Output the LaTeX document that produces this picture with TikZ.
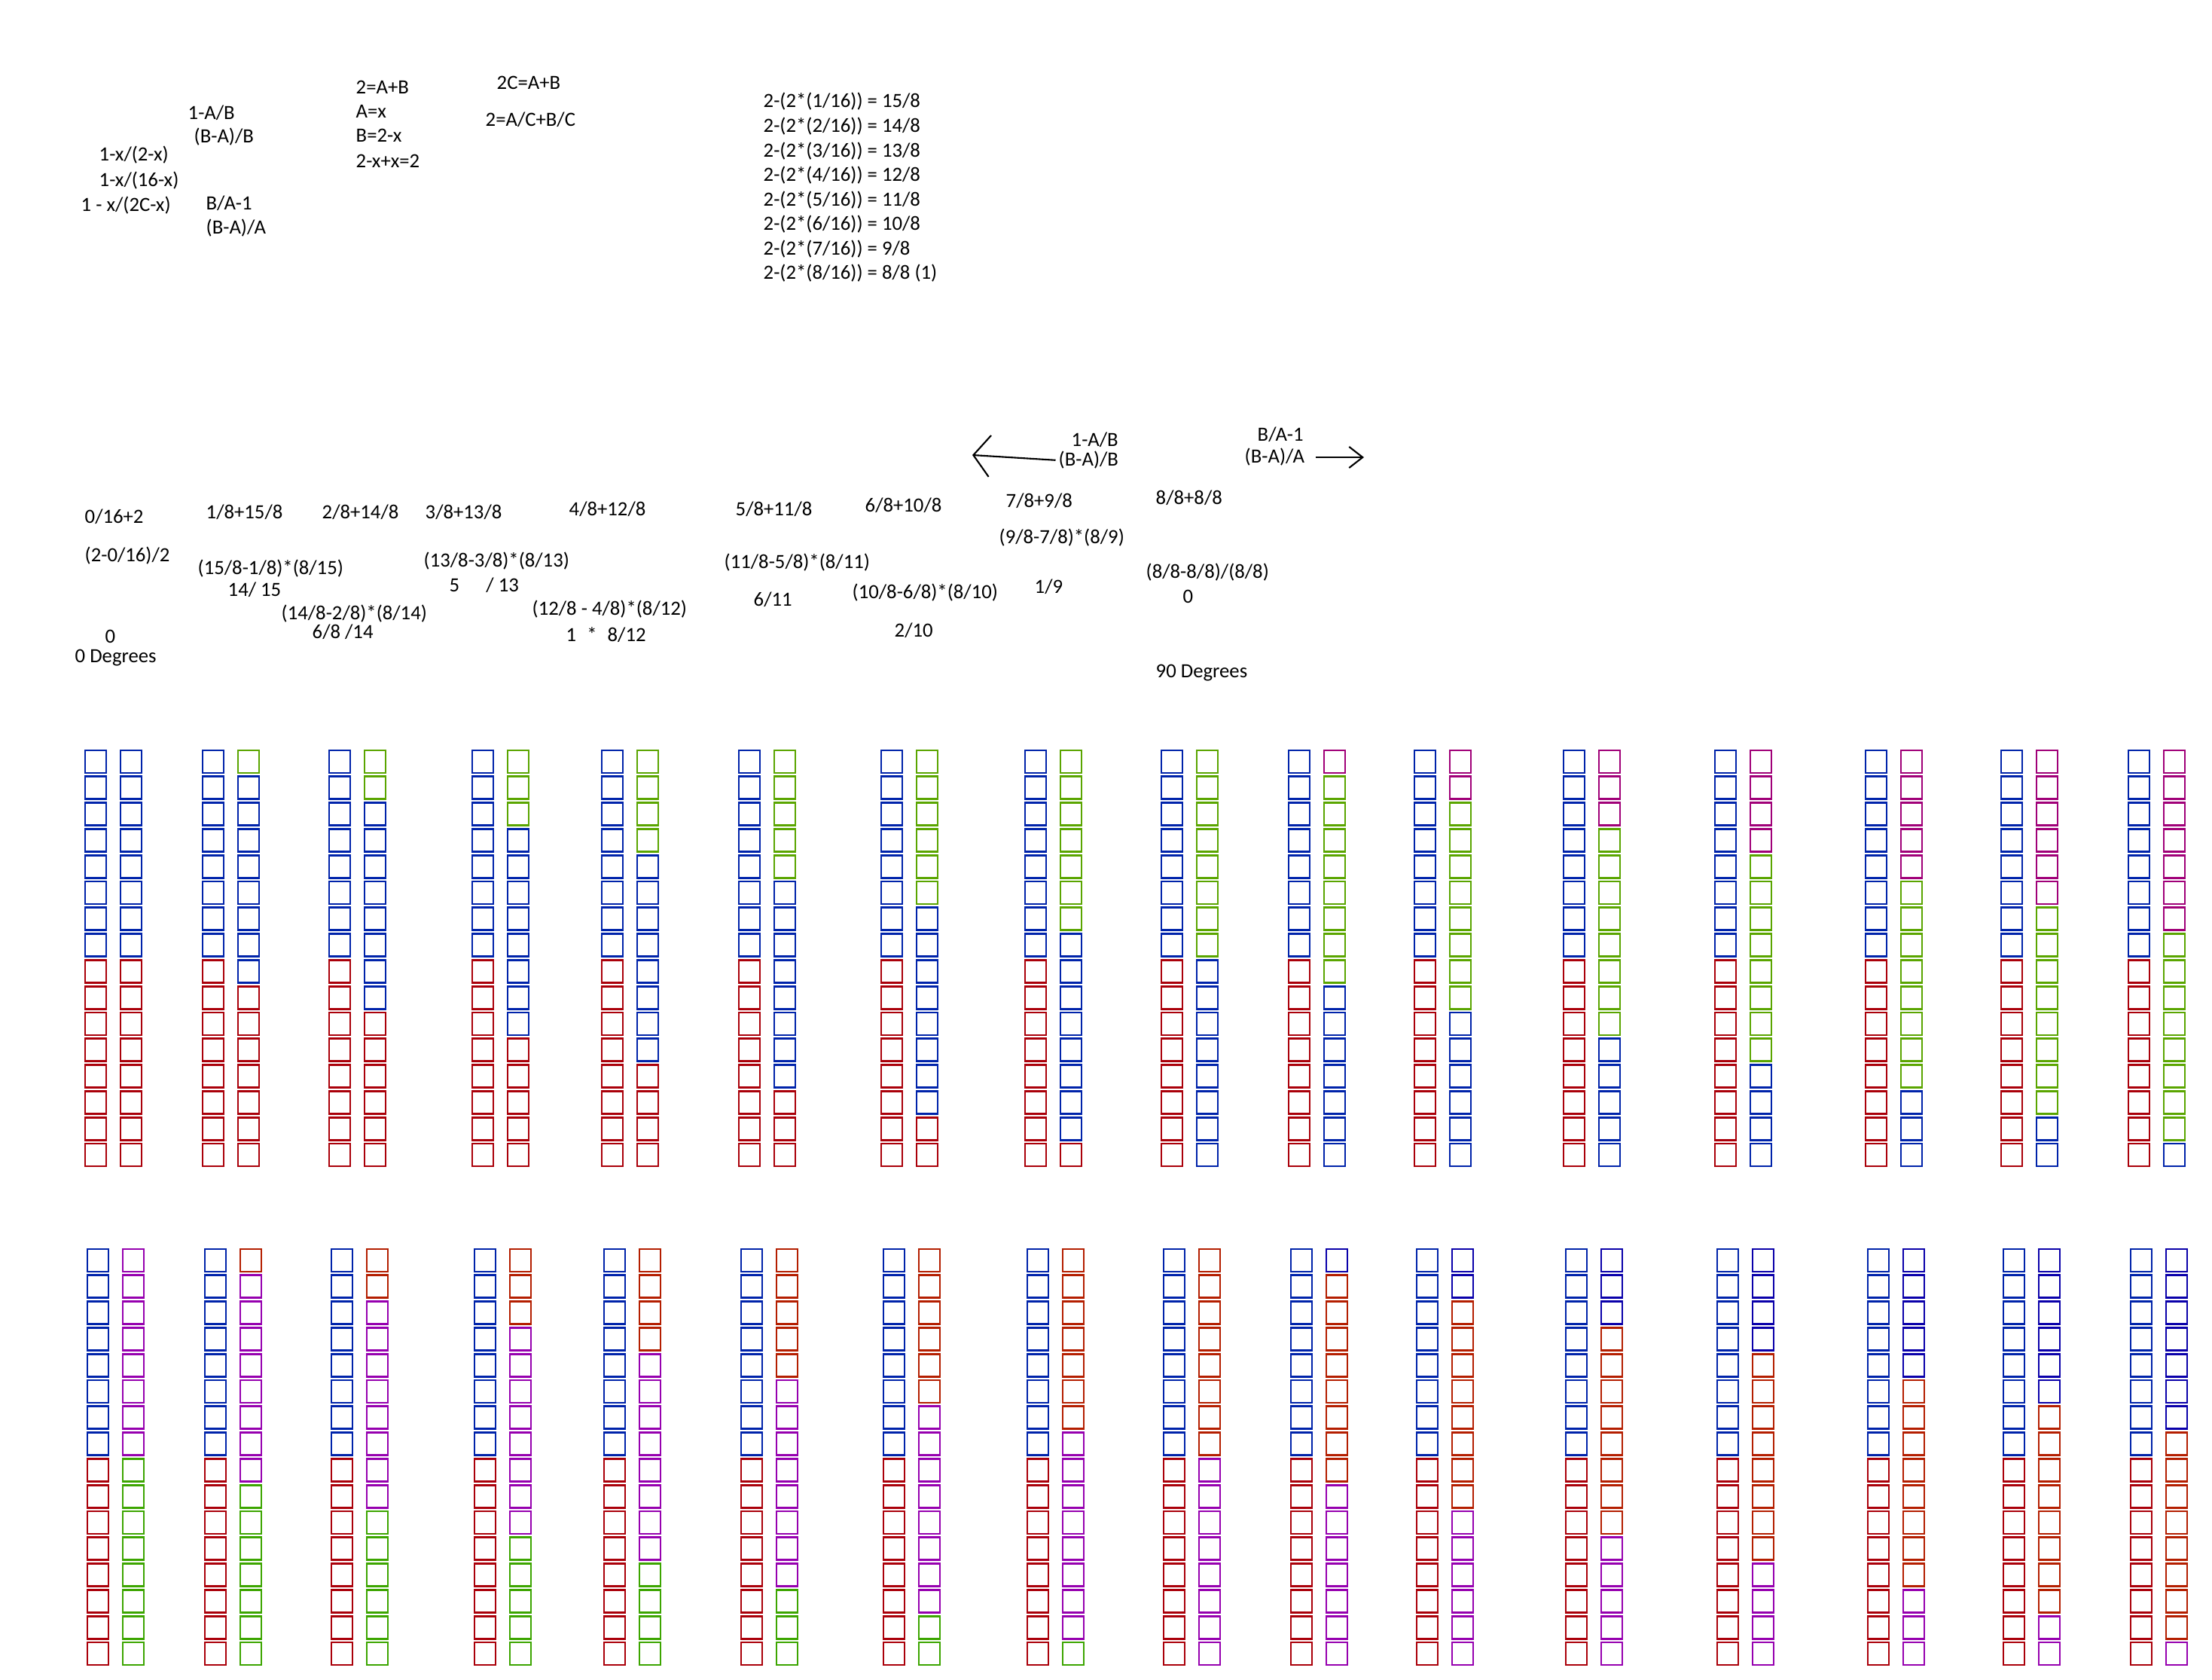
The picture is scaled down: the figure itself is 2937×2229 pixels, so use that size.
\documentclass[tikz,border=0pt]{standalone}
\usepackage{fontspec}
\setmainfont{Carlito}
\usetikzlibrary{arrows.meta}
\definecolor{sqblue}{RGB}{0,35,170}
\definecolor{sqred}{RGB}{170,0,10}
\definecolor{sqgreen}{RGB}{90,165,0}
\definecolor{sqmag}{RGB}{160,0,120}
\definecolor{sqpurple}{RGB}{150,0,175}
\definecolor{sqrust}{RGB}{180,30,0}
\definecolor{sqlime}{RGB}{60,165,0}
\definecolor{sqnavy}{RGB}{10,0,170}

\begin{document}
\begin{tikzpicture}[x=0.01cm, y=-0.01cm, font=\fontsize{7.6}{9}\selectfont,
  lbl/.style={anchor=west, inner sep=0pt},
  sq/.style={draw, line width=0.8pt, minimum width=0.28cm, minimum height=0.3cm, inner sep=0pt},
  hand/.style={line width=0.6pt}]
\useasboundingbox (0,0) rectangle (2937,2229);

% --- scratch work, top left ---
\node[lbl] (ab)    at (249,150) {1-A/B};
\node[lbl] (bab)   at (257,182) {(B-A)/B};
\node[lbl] (xa)    at (131,206) {1-x/(2-x)};
\node[lbl] (xb)    at (131,240) {1-x/(16-x)};
\node[lbl] (xc)    at (107,273) {1 - x/(2C-x)};
\node[lbl] (ba)    at (273,270) {B/A-1};
\node[lbl] (baa)   at (273,303) {(B-A)/A};
\node[lbl] (eqa)   at (472,116) {2=A+B};
\node[lbl] (eqb)   at (472,148) {A=x};
\node[lbl] (eqc)   at (472,180) {B=2-x};
\node[lbl] (eqd)   at (472,214) {2-x+x=2};
\node[lbl] (eqe)   at (659,110) {2C=A+B};
\node[lbl] (eqf)   at (644,159) {2=A/C+B/C};

% --- the eight steps ---
\foreach \n/\v [count=\i from 0] in {1/15,2/14,3/13,4/12,5/11,6/10,7/9}{
  \node[lbl] (st\n) at (1013,135+32.6*\i) {2-(2*(\n/16)) = \v/8};
}
\node[lbl] (st8) at (1013,363) {2-(2*(8/16)) = 8/8 (1)};

% --- direction notes ---
\node[lbl] (ab2)  at (1422,584) {1-A/B};
\node[lbl] (bab2) at (1405,611) {(B-A)/B};
\node[lbl] (ba2)  at (1669,577) {B/A-1};
\node[lbl] (baa2) at (1652,607) {(B-A)/A};
\coordinate (ltip) at (1291,604);
\coordinate (rtip) at (1811,607);
\draw[hand, -{Straight Barb[length=2.2mm, width=5.5mm]}, shorten <=1pt] (bab2.west) -- (ltip);
\draw[hand, -{Straight Barb[length=1.8mm, width=2.8mm]}, shorten <=4pt] (baa2.east) -- (rtip);

% --- sums and ratios per step ---
\node[lbl] (s0)  at (112,686) {0/16+2};
\node[lbl] (r0)  at (112,738) {(2-0/16)/2};
\node[lbl] (v0)  at (139,845) {0};
\node[lbl] (d0)  at (99,873)  {0 Degrees};
\node[lbl] (s1)  at (273,680) {1/8+15/8};
\node[lbl] (r1)  at (262,755) {(15/8-1/8)*(8/15)};
\node[lbl] (v1)  at (302,783) {14/ 15};
\node[lbl] (s2)  at (427,680) {2/8+14/8};
\node[lbl] (r2)  at (373,815) {(14/8-2/8)*(8/14)};
\node[lbl] (v2)  at (414,839) {6/8 /14};
\node[lbl] (s3)  at (564,680) {3/8+13/8};
\node[lbl] (r3)  at (562,745) {(13/8-3/8)*(8/13)};
\node[lbl] (v3)  at (596,777) {5\hspace{10pt}/ 13};
\node[lbl] (s4)  at (755,676) {4/8+12/8};
\node[lbl] (r4)  at (706,809) {(12/8 - 4/8)*(8/12)};
\node[lbl] (v4)  at (751,843) {1\hspace{4pt}*\hspace{4pt}8/12};
\node[lbl] (s5)  at (976,676) {5/8+11/8};
\node[lbl] (r5)  at (961,747) {(11/8-5/8)*(8/11)};
\node[lbl] (v5)  at (1000,796) {6/11};
\node[lbl] (s6)  at (1148,671) {6/8+10/8};
\node[lbl] (r6)  at (1131,787) {(10/8-6/8)*(8/10)};
\node[lbl] (v6)  at (1187,837) {2/10};
\node[lbl] (s7)  at (1335,665) {7/8+9/8};
\node[lbl] (r7)  at (1326,714) {(9/8-7/8)*(8/9)};
\node[lbl] (v7)  at (1373,779) {1/9};
\node[lbl] (s8)  at (1534,661) {8/8+8/8};
\node[lbl] (r8)  at (1521,760) {(8/8-8/8)/(8/8)};
\node[lbl] (v8)  at (1570,792) {0};
\node[lbl] (d8)  at (1534,893) {90 Degrees};

% --- square columns: left 8 blue over 8 red, right shifts down one per step ---
\foreach \row/\ytop/\dx/\colA/\colB/\colC/\colD in
    {t/1011/0/sqmag/sqgreen/sqblue/sqred, b/1673/3/sqnavy/sqrust/sqpurple/sqlime}{
  \foreach \x [count=\k from 0] in {127,283,451,641,813,995,1184,1375,1556,1725,1892,2090,2291,2491,2671,2840}{
    \foreach \r in {1,...,16}{
      \ifnum\r>8 \def\sqcol{sqred}\else\def\sqcol{sqblue}\fi
      \node[sq, draw=\sqcol] (\row\k L\r) at (\x+\dx, \ytop+34.8*\r-34.8) {};
      \ifnum\r>\numexpr\k+8\relax \def\sqcol{\colD}\else
        \ifnum\r>\k\relax \def\sqcol{\colC}\else
          \ifnum\r>\numexpr\k-8\relax \def\sqcol{\colB}\else\def\sqcol{\colA}\fi\fi\fi
      \node[sq, draw=\sqcol] (\row\k R\r) at (\x+\dx+47, \ytop+34.8*\r-34.8) {};
    }
  }
}
\end{tikzpicture}
\end{document}
